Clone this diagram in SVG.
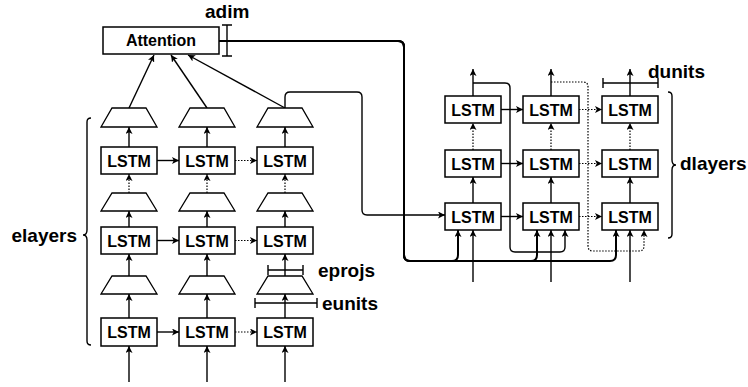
<svg xmlns="http://www.w3.org/2000/svg" width="748" height="387" viewBox="0 0 748 387">
<defs>
<marker id="ar" viewBox="0 0 10 10" refX="10" refY="5" markerWidth="7" markerHeight="7" markerUnits="userSpaceOnUse" orient="auto">
<path d="M0,0 L10,5 L0,10 L2.5,5 z" fill="#000"/>
</marker>
<style>
.box{fill:#fff;stroke:#000;stroke-width:1.5}
.tr{fill:#fff;stroke:#000;stroke-width:1.3;stroke-linejoin:miter}
.t{font-family:"Liberation Sans",Arial,sans-serif;font-weight:bold;font-size:16px;text-anchor:middle;fill:#000}
.lbl{font-family:"Liberation Sans",Arial,sans-serif;font-weight:bold;font-size:19px;fill:#000}
.s{fill:none;stroke:#000;stroke-width:1.4}
.sa{fill:none;stroke:#000;stroke-width:1.4;marker-end:url(#ar)}
.da{fill:none;stroke:#000;stroke-width:1.2;stroke-dasharray:1.5 1.5;marker-end:url(#ar)}
.thick{fill:none;stroke:#000;stroke-width:2;marker-end:url(#ar)}
</style>
</defs>
<rect width="748" height="387" fill="#fff"/>

<g id="connectors">
<!-- encoder inputs -->
<path class="sa" d="M129,382 V346"/><path class="sa" d="M207,382 V346"/><path class="sa" d="M285,382 V346"/>
<!-- LSTM3 -> trap3 -->
<path class="sa" d="M129,318 V294"/><path class="sa" d="M207,318 V294"/><path class="sa" d="M285,318 V294"/>
<!-- trap3 -> LSTM2 -->
<path class="sa" d="M129,276 V254"/><path class="sa" d="M207,276 V254"/><path class="sa" d="M285,276 V254"/>
<!-- LSTM2 -> trap2 -->
<path class="sa" d="M129,227 V211"/><path class="sa" d="M207,227 V211"/><path class="sa" d="M285,227 V211"/>
<!-- trap2 -> LSTM1 dotted -->
<path class="da" d="M129,193 V174"/><path class="da" d="M207,193 V174"/><path class="da" d="M285,193 V174"/>
<!-- LSTM1 -> trap1 -->
<path class="sa" d="M129,147 V127"/><path class="sa" d="M207,147 V127"/><path class="sa" d="M285,147 V127"/>
<!-- trap1 -> attention -->
<path class="sa" d="M129,108 L154,55"/><path class="sa" d="M207,108 L171,55"/><path class="sa" d="M285,108 L188,55"/>
<!-- encoder horizontal -->
<path class="sa" d="M157,160.5 H179"/><path class="da" d="M235,160.5 H257"/>
<path class="sa" d="M157,240.5 H179"/><path class="da" d="M235,240.5 H257"/>
<path class="sa" d="M157,332 H179"/><path class="da" d="M235,332 H257"/>
<!-- encoder output to decoder -->
<path class="sa" d="M285,108 V97 Q285,92 290,92 H357 Q362,92 362,97 V210 Q362,215 367,215 H445"/>
<!-- attention context to decoder -->
<path class="thick" d="M219,41 H398 Q404,41 404,47 V255 Q404,261 410,261 H452 Q458,261 458,255 V230"/>
<path class="thick" d="M219,41 H398 Q404,41 404,47 V255 Q404,261 410,261 H531 Q537,261 537,255 V230"/>
<path class="thick" d="M219,41 H398 Q404,41 404,47 V255 Q404,261 410,261 H610 Q616,261 616,255 V230"/>
<!-- decoder inputs -->
<path class="sa" d="M473,282 V230"/><path class="sa" d="M551,282 V230"/><path class="sa" d="M630,282 V230"/>
<!-- decoder row3 -> row2 -->
<path class="sa" d="M473,203 V177"/><path class="sa" d="M551,203 V177"/><path class="sa" d="M630,203 V177"/>
<!-- decoder row2 -> row1 dotted -->
<path class="da" d="M473,150 V123"/><path class="da" d="M551,150 V123"/><path class="da" d="M630,150 V123"/>
<!-- decoder outputs -->
<path class="sa" d="M473,96 V69"/><path class="sa" d="M551,96 V69"/><path class="sa" d="M630,96 V69"/>
<!-- decoder horizontal -->
<path class="sa" d="M501,109.5 H523"/><path class="da" d="M579,109.5 H602"/>
<path class="sa" d="M501,163.5 H523"/><path class="da" d="M579,163.5 H602"/>
<path class="sa" d="M501,216.5 H523"/><path class="da" d="M579,216.5 H602"/>
<!-- feedback col1 -> col2 -->
<path class="sa" d="M473,83 H505 Q510,83 510,88 V247 Q510,252 515,252 H560 Q565,252 565,247 V230"/>
<!-- feedback col2 -> col3 dotted -->
<path class="da" d="M551,82 H583 Q588,82 588,87 V246 Q588,251 593,251 H639 Q644,251 644,246 V230"/>
</g>

<g id="attention">
<rect class="box" x="103" y="27" width="116" height="27"/>
<text class="t" x="161" y="46">Attention</text>
</g>

<g id="enc-trap1">
<path class="tr" d="M112,108 H146 L157,127 H101 Z"/>
<path class="tr" d="M190,108 H224 L235,127 H179 Z"/>
<path class="tr" d="M268,108 H302 L313,127 H257 Z"/>
</g>
<g id="enc-lstm1">
<rect class="box" x="101" y="147" width="56" height="27"/><text class="t" x="129" y="166.5">LSTM</text>
<rect class="box" x="179" y="147" width="56" height="27"/><text class="t" x="207" y="166.5">LSTM</text>
<rect class="box" x="257" y="147" width="56" height="27"/><text class="t" x="285" y="166.5">LSTM</text>
</g>
<g id="enc-trap2">
<path class="tr" d="M112,193 H146 L157,211 H101 Z"/>
<path class="tr" d="M190,193 H224 L235,211 H179 Z"/>
<path class="tr" d="M268,193 H302 L313,211 H257 Z"/>
</g>
<g id="enc-lstm2">
<rect class="box" x="101" y="227" width="56" height="27"/><text class="t" x="129" y="246.5">LSTM</text>
<rect class="box" x="179" y="227" width="56" height="27"/><text class="t" x="207" y="246.5">LSTM</text>
<rect class="box" x="257" y="227" width="56" height="27"/><text class="t" x="285" y="246.5">LSTM</text>
</g>
<g id="enc-trap3">
<path class="tr" d="M112,276 H146 L157,294 H101 Z"/>
<path class="tr" d="M190,276 H224 L235,294 H179 Z"/>
<path class="tr" d="M268,276 H302 L313,294 H257 Z"/>
</g>
<g id="enc-lstm3">
<rect class="box" x="101" y="318" width="56" height="28"/><text class="t" x="129" y="338">LSTM</text>
<rect class="box" x="179" y="318" width="56" height="28"/><text class="t" x="207" y="338">LSTM</text>
<rect class="box" x="257" y="318" width="56" height="28"/><text class="t" x="285" y="338">LSTM</text>
</g>

<g id="dec-row1">
<rect class="box" x="445" y="96" width="56" height="27"/><text class="t" x="473" y="115.5">LSTM</text>
<rect class="box" x="523" y="96" width="56" height="27"/><text class="t" x="551" y="115.5">LSTM</text>
<rect class="box" x="602" y="96" width="56" height="27"/><text class="t" x="630" y="115.5">LSTM</text>
</g>
<g id="dec-row2">
<rect class="box" x="445" y="150" width="56" height="27"/><text class="t" x="473" y="169.5">LSTM</text>
<rect class="box" x="523" y="150" width="56" height="27"/><text class="t" x="551" y="169.5">LSTM</text>
<rect class="box" x="602" y="150" width="56" height="27"/><text class="t" x="630" y="169.5">LSTM</text>
</g>
<g id="dec-row3">
<rect class="box" x="445" y="203" width="56" height="27"/><text class="t" x="473" y="222.5">LSTM</text>
<rect class="box" x="523" y="203" width="56" height="27"/><text class="t" x="551" y="222.5">LSTM</text>
<rect class="box" x="602" y="203" width="56" height="27"/><text class="t" x="630" y="222.5">LSTM</text>
</g>

<g id="adim">
<path class="s" d="M227,25 V56 M222,25 H232 M222,56 H232"/>
<text class="lbl" x="205" y="18">adim</text>
</g>
<g id="eprojs">
<path class="s" d="M268,270 H303 M268,265 V275 M303,265 V275"/>
<text class="lbl" x="318" y="277">eprojs</text>
</g>
<g id="eunits">
<path class="s" d="M255,303 H317 M255,298 V308 M317,298 V308"/>
<text class="lbl" x="322" y="310">eunits</text>
</g>
<g id="dunits">
<path class="s" d="M603,83 H658 M603,78 V88 M658,78 V88"/>
<text class="lbl" x="648" y="78">dunits</text>
</g>
<g id="elayers">
<path class="s" d="M91,118 Q87,118 87,122 V230 Q87,235 83,235 Q87,235 87,240 V341 Q87,345 91,345"/>
<text class="lbl" x="77" y="242" text-anchor="end">elayers</text>
</g>
<g id="dlayers">
<path class="s" d="M668,92 Q672,92 672,96 V160 Q672,165 676,165 Q672,165 672,170 V234 Q672,238 668,238"/>
<text class="lbl" x="680" y="170">dlayers</text>
</g>
</svg>
